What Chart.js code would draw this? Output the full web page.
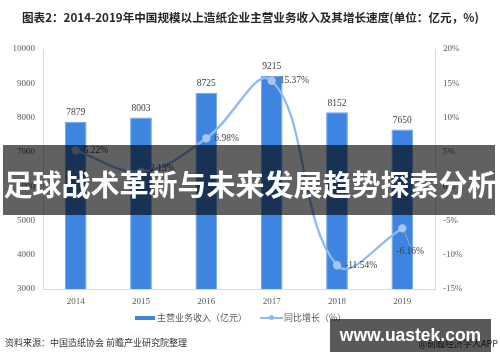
<!DOCTYPE html>
<html>
<head>
<meta charset="utf-8">
<script src="https://cdn.jsdelivr.net/npm/chart.js@4/dist/chart.umd.min.js"></script>
<style>
  html,body{margin:0;padding:0;background:#fff;}
  #wrap{position:relative;width:500px;height:362px;overflow:hidden;background:#fff;font-family:"Noto Sans CJK SC","Noto Sans",sans-serif;}
  #c{position:absolute;left:0;top:0;}
  .abs{position:absolute;white-space:nowrap;}
  #title{left:22px;top:9px;font-size:11.6px;font-weight:bold;color:#262626;line-height:16px;}
  #banner{left:3px;top:145px;width:492px;height:70px;background:rgba(0,0,0,0.62);}
  #bannerText{left:0;top:161px;width:500px;text-align:center;font-size:29px;font-weight:bold;color:#fff;line-height:44px;}
  .leg{font-size:9px;color:#595959;line-height:12px;}
  #src{left:5px;top:337px;font-size:9px;color:#333;line-height:12px;}
  #app{right:2px;top:338px;font-size:9px;color:#333;line-height:12px;}
  #wm{left:330px;top:319px;width:161px;height:33px;background:rgba(0,0,0,0.65);}
  #wmText{left:330px;top:319px;width:161px;height:33px;line-height:33px;text-align:center;font-family:"Liberation Sans",Arial,sans-serif;font-weight:bold;font-size:17.5px;color:#fff;}
</style>
</head>
<body>
<div id="wrap">
  <canvas id="c" width="500" height="362"></canvas>
  <div id="title" class="abs">图表2：2014-2019年中国规模以上造纸企业主营业务收入及其增长速度(单位：亿元，%)</div>
  <div class="abs" style="left:135px;top:316px;width:20px;height:4px;background:#3d85e0;"></div>
  <div class="abs leg" style="left:157px;top:312px;">主营业务收入（亿元）</div>
  <div class="abs" style="left:260px;top:317px;width:23px;height:2px;background:#8fbaf0;"></div>
  <div class="abs" style="left:269px;top:315px;width:5px;height:5px;border-radius:50%;background:#8fbaf0;"></div>
  <div class="abs leg" style="left:284px;top:312px;">同比增长（%）</div>
  <div id="src" class="abs">资料来源：中国造纸协会 前瞻产业研究院整理</div>
  <div id="app" class="abs">@前瞻经济学人APP</div>
  <div id="banner" class="abs"></div>
  <div id="bannerText" class="abs">足球战术革新与未来发展趋势探索分析</div>
  <div id="wm" class="abs"></div>
  <div id="wmText" class="abs">www.uastek.com</div>
</div>
<script>
const categories = ['2014', '2015', '2016', '2017', '2018', '2019'];
const revenue = [7879, 8003, 8725, 9215, 8152, 7650];
const growth = [5.22, 2.13, 6.98, 15.37, -11.54, -6.16];
const revenueLabel = '主营业务收入（亿元）';
const growthLabel = '同比增长（%）';

const tickFont = {family: '"Liberation Serif", "Times New Roman", serif', size: 9};
const tickColor = '#595959';

const labelPlugin = {
  id: 'valueLabels',
  afterDatasetsDraw(chart) {
    const ctx = chart.ctx;
    ctx.save();
    ctx.font = '9.5px "Liberation Serif", serif';
    ctx.fillStyle = '#404040';
    ctx.textBaseline = 'middle';
    const barMeta = chart.getDatasetMeta(1);
    ctx.textAlign = 'center';
    barMeta.data.forEach((el, i) => {
      ctx.fillText(String(revenue[i]), el.x, el.y - 9);
    });
    const lineMeta = chart.getDatasetMeta(0);
    ctx.textAlign = 'left';
    lineMeta.data.forEach((el, i) => {
      const txt = growth[i].toFixed(2) + '%';
      if (i === growth.length - 1) {
        ctx.strokeStyle = '#a6a6a6';
        ctx.lineWidth = 1;
        ctx.beginPath();
        ctx.moveTo(el.x + 2, el.y + 3);
        ctx.lineTo(el.x + 8, el.y + 18);
        ctx.stroke();
        ctx.fillText(txt, el.x - 6, el.y + 23);
      } else if (i === 1) {
        ctx.fillText(txt, el.x + 9, el.y - 3);
      } else {
        ctx.fillText(txt, el.x + 8, el.y);
      }
    });
    ctx.restore();
  }
};

new Chart(document.getElementById('c'), {
  data: {
    labels: categories,
    datasets: [
      {
        type: 'line',
        label: growthLabel,
        data: growth,
        yAxisID: 'y1',
        borderColor: '#8fbaf0',
        borderWidth: 2.3,
        tension: 0.4,
        pointRadius: 3,
        pointBackgroundColor: '#a9c6ea',
        pointBorderColor: '#a9c6ea',
        order: 0
      },
      {
        type: 'bar',
        label: revenueLabel,
        data: revenue,
        yAxisID: 'y',
        backgroundColor: '#3d85e0',
        borderColor: '#6fa5ea',
        borderWidth: 1,
        barPercentage: 0.333,
        categoryPercentage: 1,
        order: 1
      }
    ]
  },
  options: {
    responsive: false,
    animation: false,
    layout: {padding: {top: 49, left: 0, right: 0, bottom: 0}},
    plugins: {legend: {display: false}, tooltip: {enabled: false}},
    scales: {
      x: {
        grid: {display: false, drawTicks: false},
        border: {color: '#d9d9d9'},
        ticks: {font: tickFont, color: tickColor, padding: 7},
        afterFit(s) { s.height = 73; }
      },
      y: {
        position: 'left',
        min: 3000, max: 10000,
        grid: {display: false, drawTicks: false},
        border: {color: '#d9d9d9'},
        ticks: {stepSize: 1000, font: tickFont, color: tickColor, padding: 8, callback: v => String(v)},
        afterFit(s) { s.width = 43; }
      },
      y1: {
        position: 'right',
        min: -15, max: 20,
        grid: {display: false, drawTicks: false},
        border: {color: '#d9d9d9'},
        ticks: {stepSize: 5, font: tickFont, color: tickColor, padding: 8, callback: v => v + '%'},
        afterFit(s) { s.width = 65; }
      }
    }
  },
  plugins: [labelPlugin]
});
</script>
</body>
</html>
